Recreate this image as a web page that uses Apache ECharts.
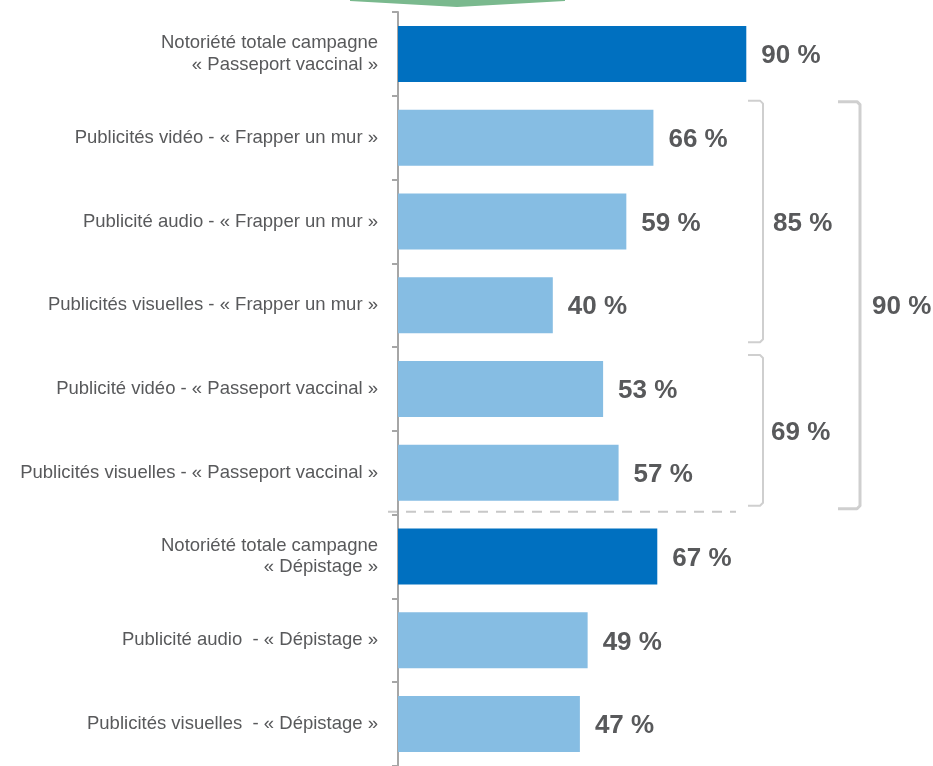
<!DOCTYPE html>
<html><head><meta charset="utf-8">
<script src="https://cdn.jsdelivr.net/npm/echarts@6/dist/echarts.min.js"></script>
<style>html,body{margin:0;padding:0;background:#fff;}#c{width:933px;height:766px;}</style>
</head><body><div id="c"></div>
<script>
const categories = [
  "Notoriété totale campagne\n« Passeport vaccinal »",
  "Publicités vidéo - « Frapper un mur »",
  "Publicité audio - « Frapper un mur »",
  "Publicités visuelles - « Frapper un mur »",
  "Publicité vidéo - « Passeport vaccinal »",
  "Publicités visuelles - « Passeport vaccinal »",
  "Notoriété totale campagne\n« Dépistage »",
  "Publicité audio  - « Dépistage »",
  "Publicités visuelles  - « Dépistage »"
];
const values = [90, 66, 59, 40, 53, 57, 67, 49, 47];
const isTotal = [true, false, false, false, false, false, true, false, false];
const groupLabels = ["85 %", "69 %", "90 %"];

const DARK = "#0070C0", LIGHT = "#86BDE3", TXT = "#58595b";
const FF = '"Liberation Sans", Arial, sans-serif';
const chart = echarts.init(document.getElementById('c'));
chart.setOption({
  animation: false,
  grid: { left: 398, top: 12, width: 387, height: 756 },
  xAxis: { type: 'value', min: 0, max: 100, show: false },
  yAxis: {
    type: 'category', inverse: true, data: categories,
    axisLine: { show: true, lineStyle: { color: '#a6a6a6', width: 2 } },
    axisTick: { show: true, length: 6, lineStyle: { color: '#a6a6a6', width: 2 } },
    axisLabel: { margin: 20, color: TXT, fontSize: 18.5, lineHeight: 21.5, fontFamily: FF, align: 'right', padding: [6, 0, 0, 0] }
  },
  series: [{
    type: 'bar', barWidth: 56,
    data: values.map((v, i) => ({ value: v, itemStyle: { color: isTotal[i] ? DARK : LIGHT } })),
    label: { show: true, position: 'right', distance: 15, offset: [0, 2], formatter: '{c} %', color: TXT, fontSize: 26, fontWeight: 'bold', fontFamily: FF }
  }]
});

function yOf(i) { return chart.convertToPixel({ yAxisIndex: 0 }, i); }
const half = 42;
function bracket(x0, x1, yTop, yBot, w) {
  return {
    type: 'polyline',
    shape: { points: [[x0, yTop], [x1 - 3, yTop], [x1, yTop + 3], [x1, yBot - 3], [x1 - 3, yBot], [x0, yBot]] },
    style: { fill: null, stroke: '#cfcfcf', lineWidth: w, lineJoin: 'round' }
  };
}
const b1t = yOf(1) - half + 5, b1b = yOf(3) + half - 5;
const b2t = yOf(4) - half + 8, b2b = yOf(5) + half - 9;
const b3t = yOf(1) - half + 6, b3b = yOf(5) + half - 6;
const sepY = (yOf(5) + yOf(6)) / 2 - 3;
const txt = (x, y, t) => ({ type: 'text', x: x, y: y + 2, style: { text: t, fill: TXT, font: 'bold 26px ' + FF, verticalAlign: 'middle' } });
chart.setOption({
  graphic: [
    { type: 'polygon', shape: { points: [[350,0],[565,0],[565,1],[457,7],[350,1]] }, style: { fill: '#7AB98E' } },
    bracket(748, 763, b1t, b1b, 2),
    bracket(748, 763, b2t, b2b, 2),
    bracket(838, 860, b3t, b3b, 3),
    { type: 'line', shape: { x1: 388, y1: sepY, x2: 736, y2: sepY }, style: { stroke: '#c8c8c8', lineWidth: 2, lineDash: [10, 8] } },
    txt(773, (b1t + b1b) / 2, groupLabels[0]),
    txt(771, (b2t + b2b) / 2, groupLabels[1]),
    txt(872, (b3t + b3b) / 2, groupLabels[2])
  ]
});
</script></body></html>
